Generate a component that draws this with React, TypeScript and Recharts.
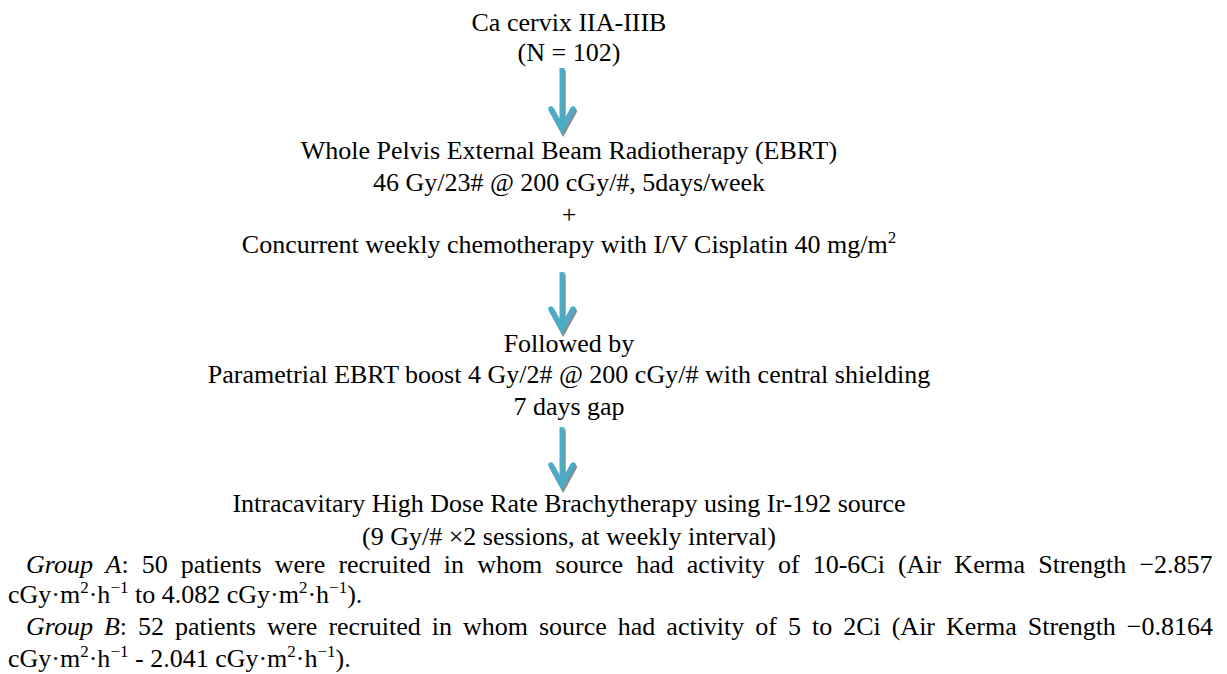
import React from "react";
import { ReferenceLine, Scatter, ScatterChart, XAxis, YAxis } from "recharts";

const W = 1227;
const H = 674;
const FONT = '"Liberation Serif", "Times New Roman", serif';
const FS = 26;
const SUP_FS = 17;
const ARROW = "#4bacc6";
const SHADOW = "#8a8a8a";

// layout columns (px on the x axis)
const CENTER_X = 569;
const ARROW_X = 562;
const PARA_X = 8;
const INDENT_X = 26;
const RIGHT_X = 1213;

// flow steps, one entry per printed line. ^{..} = superscript, *{..} = italic
const stepLines = [
  "Ca cervix IIA-IIIB",
  "(N = 102)",
  "Whole Pelvis External Beam Radiotherapy (EBRT)",
  "46 Gy/23# @ 200 cGy/#, 5days/week",
  "+",
  "Concurrent weekly chemotherapy with I/V Cisplatin 40 mg/m^{2}",
  "Followed by",
  "Parametrial EBRT boost 4 Gy/2# @ 200 cGy/# with central shielding",
  "7 days gap",
  "Intracavitary High Dose Rate Brachytherapy using Ir-192 source",
  "(9 Gy/# \u00d72 sessions, at weekly interval)",
];
const stepRows = [0, 0.97, 4.1, 5.12, 6.15, 7.1, 10.28, 11.28, 12.3, 15.4, 16.47];

// arrows between the steps (row where the shaft starts / where the tip is)
const arrowFrom = [1.18, 7.72, 12.69];
const arrowTo = [3.23, 9.64, 14.64];

const groupLines = [
  "*{Group A}: 50 patients were recruited in whom source had activity of 10-6Ci (Air Kerma Strength \u22122.857",
  "cGy\u00b7m^{2}\u00b7h^{\u22121} to 4.082 cGy\u00b7m^{2}\u00b7h^{\u22121}).",
  "*{Group B}: 52 patients were recruited in whom source had activity of 5 to 2Ci (Air Kerma Strength \u22120.8164",
  "cGy\u00b7m^{2}\u00b7h^{\u22121} - 2.041 cGy\u00b7m^{2}\u00b7h^{\u22121}).",
];
const groupRows = [17.37, 18.33, 19.35, 20.38];
const groupJustified = [true, false, true, false];

type Part = { t: string; k: "n" | "sup" | "it" };

function parse(s: string): Part[] {
  const out: Part[] = [];
  const re = /(\^\{[^}]*\}|\*\{[^}]*\})/g;
  let last = 0;
  let m: RegExpExecArray | null;
  while ((m = re.exec(s))) {
    if (m.index > last) out.push({ t: s.slice(last, m.index), k: "n" });
    out.push({ t: m[0].slice(2, -1), k: m[0][0] === "^" ? "sup" : "it" });
    last = re.lastIndex;
  }
  if (last < s.length) out.push({ t: s.slice(last), k: "n" });
  return out;
}

let ctx: CanvasRenderingContext2D | null = null;
function measure(parts: Part[]) {
  if (!ctx) ctx = document.createElement("canvas").getContext("2d");
  if (!ctx) return 0;
  let w = 0;
  for (const p of parts) {
    const size = p.k === "sup" ? SUP_FS : FS;
    ctx.font = `${p.k === "it" ? "italic " : ""}${size}px ${FONT}`;
    w += ctx.measureText(p.t).width;
  }
  return w;
}

function RichText({ x, y, text, anchor, width }: any) {
  const parts = parse(text);
  let wordSpacing = 0;
  if (width) {
    const spaces = parts.reduce((n, p) => n + (p.t.match(/ /g) || []).length, 0);
    wordSpacing = spaces ? (width - measure(parts)) / spaces : 0;
  }
  let up = false;
  return (
    <text
      x={x}
      y={y}
      textAnchor={anchor}
      fontFamily={FONT}
      fontSize={FS}
      fill="#000"
      style={{ whiteSpace: "pre", wordSpacing }}
    >
      {parts.map((p, i) => {
        let dy = 0;
        if (p.k === "sup" && !up) {
          dy = -10;
          up = true;
        } else if (p.k !== "sup" && up) {
          dy = 10;
          up = false;
        }
        return (
          <tspan
            key={i}
            dy={dy || undefined}
            fontSize={p.k === "sup" ? SUP_FS : undefined}
            fontStyle={p.k === "it" ? "italic" : undefined}
          >
            {p.t}
          </tspan>
        );
      })}
    </text>
  );
}

function Arrow(props: any) {
  const { x1, y1, x2, y2 } = props;
  const head = 23;
  const half = 11;
  const draw = (color: string, dx: number, dy: number) => (
    <g transform={`translate(${dx},${dy})`}>
      <line x1={x1} y1={y1} x2={x2} y2={y2 - 4} stroke={color} strokeWidth={5} />
      <polyline
        points={`${x2 - half},${y2 - head} ${x2},${y2 - 3} ${x2 + half},${y2 - head}`}
        fill="none"
        stroke={color}
        strokeWidth={5.5}
        strokeLinejoin="miter"
        strokeLinecap="round"
      />
    </g>
  );
  return (
    <g>
      {draw(SHADOW, 1.2, 2.2)}
      {draw(ARROW, 0, 0)}
    </g>
  );
}

export default function App() {
  const steps = stepLines.map((text, i) => ({ x: CENTER_X, row: stepRows[i], text }));
  const groups = groupLines.map((text, i) => ({
    x: groupJustified[i] ? INDENT_X : PARA_X,
    row: groupRows[i],
    text,
    justify: groupJustified[i],
  }));

  return (
    <div style={{ position: "absolute", left: 0, top: 0, width: W, height: H, background: "#fff" }}>
      <ScatterChart width={W} height={H} margin={{ top: 0, right: 0, bottom: 0, left: 0 }}>
        <XAxis type="number" dataKey="x" domain={[0, W]} allowDataOverflow hide />
        <YAxis type="number" dataKey="row" domain={[-1, 20.6]} allowDataOverflow reversed hide />
        {arrowFrom.map((from, i) => (
          <ReferenceLine
            key={i}
            segment={[
              { x: ARROW_X, y: from },
              { x: ARROW_X, y: arrowTo[i] },
            ]}
            shape={Arrow}
          />
        ))}
        <Scatter
          data={steps}
          isAnimationActive={false}
          shape={(p: any) => <RichText x={p.cx} y={p.cy} text={p.payload.text} anchor="middle" />}
        />
        <Scatter
          data={groups}
          isAnimationActive={false}
          shape={(p: any) => (
            <RichText
              x={p.cx}
              y={p.cy}
              text={p.payload.text}
              anchor="start"
              width={p.payload.justify ? RIGHT_X - INDENT_X : undefined}
            />
          )}
        />
      </ScatterChart>
    </div>
  );
}
